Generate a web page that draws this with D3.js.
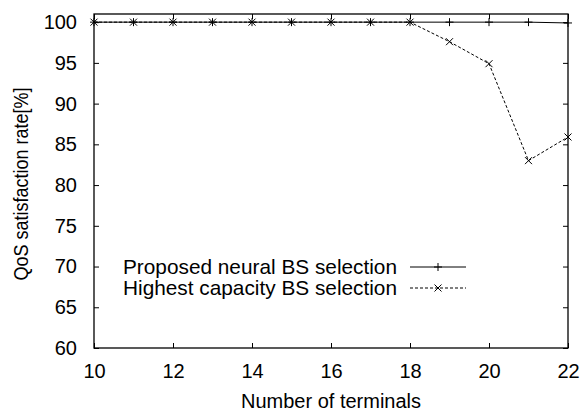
<!DOCTYPE html>
<html>
<head>
<meta charset="utf-8">
<script src="https://cdn.jsdelivr.net/npm/d3@7"></script>
<style>
  body { margin: 0; background: #fff; }
  text { font-family: "Liberation Sans", Arial, sans-serif; }
</style>
</head>
<body>
<div id="graphics"></div>
<script>
var terminals = [10, 11, 12, 13, 14, 15, 16, 17, 18, 19, 20, 21, 22];
var neural = [100, 100, 100, 100, 100, 100, 100, 100, 100, 100, 100, 100, 99.9];
var highest = [100, 100, 100, 100, 100, 100, 100, 100, 100, 97.6, 94.9, 83.0, 85.9];
var xTicks = [10, 12, 14, 16, 18, 20, 22];
var yTicks = [60, 65, 70, 75, 80, 85, 90, 95, 100];
var seriesNames = ["Proposed neural BS selection", "Highest capacity BS selection"];

var w = 580, h = 412;
var plotLeft = 94, plotRight = 568, plotTop = 14, plotBottom = 348;
var fontSize = "20px";

var svg = d3.select("#graphics")
  .append("svg")
  .attr("width", w)
  .attr("height", h);

var x = d3.scaleLinear().domain([10, 22]).range([plotLeft, plotRight]);
var y = d3.scaleLinear().domain([60, 101]).range([plotBottom, plotTop]);

// frame
svg.append("rect")
  .attr("x", plotLeft).attr("y", plotTop)
  .attr("width", plotRight - plotLeft).attr("height", plotBottom - plotTop)
  .attr("fill", "none").attr("stroke", "#000").attr("stroke-width", 1.3);

// inward ticks on all sides
var tickLen = 5;
function styleAxis(g) {
  g.select(".domain").remove();
  g.selectAll("line").attr("stroke", "#000").attr("stroke-width", 1);
  g.selectAll("text").attr("font-size", fontSize).attr("fill", "#000");
}
svg.append("g").attr("transform", "translate(0," + plotBottom + ")")
  .call(d3.axisBottom(x).tickValues(xTicks).tickSize(-tickLen).tickPadding(16))
  .call(styleAxis);
svg.append("g").attr("transform", "translate(0," + plotTop + ")")
  .call(d3.axisTop(x).tickValues(xTicks).tickSize(-tickLen).tickFormat(""))
  .call(styleAxis);
svg.append("g").attr("transform", "translate(" + plotLeft + ",0)")
  .call(d3.axisLeft(y).tickValues(yTicks).tickSize(-tickLen).tickPadding(17))
  .call(styleAxis);
svg.append("g").attr("transform", "translate(" + plotRight + ",0)")
  .call(d3.axisRight(y).tickValues(yTicks).tickSize(-tickLen).tickFormat(""))
  .call(styleAxis);

// axis titles
svg.append("text")
  .attr("x", (plotLeft + plotRight) / 2).attr("y", 408)
  .attr("text-anchor", "middle").attr("font-size", fontSize)
  .text("Number of terminals");
svg.append("text")
  .attr("transform", "translate(28,184) rotate(-90) scale(0.9,1)")
  .attr("text-anchor", "middle").attr("font-size", fontSize)
  .text("QoS satisfaction rate[%]");

var line = d3.line()
  .x(function(d, i) { return x(terminals[i]); })
  .y(function(d) { return y(d); });

function plus(g, cx, cy) {
  g.append("path")
    .attr("d", "M" + (cx - 4) + "," + cy + "H" + (cx + 4) + "M" + cx + "," + (cy - 4) + "V" + (cy + 4))
    .attr("stroke", "#000").attr("stroke-width", 1).attr("fill", "none");
}
function cross(g, cx, cy) {
  g.append("path")
    .attr("d", "M" + (cx - 3.5) + "," + (cy - 3.5) + "L" + (cx + 3.5) + "," + (cy + 3.5) +
               "M" + (cx - 3.5) + "," + (cy + 3.5) + "L" + (cx + 3.5) + "," + (cy - 3.5))
    .attr("stroke", "#000").attr("stroke-width", 1).attr("fill", "none");
}

// highest capacity (dashed, x markers)
svg.append("path").datum(highest)
  .attr("d", line)
  .attr("fill", "none").attr("stroke", "#000").attr("stroke-width", 1)
  .attr("stroke-dasharray", "3,2");
var gh = svg.append("g");
highest.forEach(function(d, i) { cross(gh, x(terminals[i]), y(d)); });

// neural (solid, + markers)
svg.append("path").datum(neural)
  .attr("d", line)
  .attr("fill", "none").attr("stroke", "#000").attr("stroke-width", 1);
var gn = svg.append("g");
neural.forEach(function(d, i) { plus(gn, x(terminals[i]), y(d)); });

// legend
var legY = [267, 288];
var leg = svg.append("g");
seriesNames.forEach(function(name, i) {
  leg.append("text")
    .attr("x", 397).attr("y", legY[i]).attr("dy", "0.35em")
    .attr("text-anchor", "end").attr("font-size", "20.8px")
    .text(name);
  leg.append("line")
    .attr("x1", 410).attr("x2", 466).attr("y1", legY[i]).attr("y2", legY[i])
    .attr("stroke", "#000").attr("stroke-width", 1)
    .attr("stroke-dasharray", i === 0 ? null : "3,2");
  if (i === 0) plus(leg, 438, legY[i]); else cross(leg, 438, legY[i]);
});
</script>
</body>
</html>
